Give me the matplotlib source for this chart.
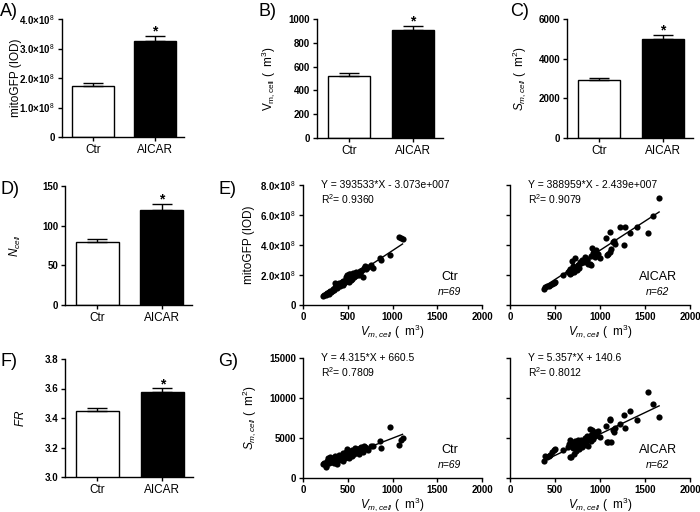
import numpy as np
import matplotlib.pyplot as plt

plt.rcParams.update({
    'font.family': 'Liberation Sans',
    'mathtext.fontset': 'custom',
    'mathtext.rm': 'Liberation Sans',
    'mathtext.it': 'Liberation Sans:italic',
    'mathtext.bf': 'Liberation Sans:bold',
    'axes.linewidth': 1.0,
})

# ------------------------------------------------------------
# DATA
# ------------------------------------------------------------
groups = ['Ctr', 'AICAR']

gfp_mean = [1.74e8, 3.27e8]
gfp_err = [0.10e8, 0.15e8]
vm_mean = [521, 907]
vm_err = [25, 34]
sm_mean = [2910, 4990]
sm_err = [115, 220]
ncell_mean = [79.6, 119.4]
ncell_err = [3.8, 8.4]
fr_mean = [3.449, 3.578]
fr_err = [0.019, 0.023]

# per-cell values, Ctr (n=69)
ctr_vm = [225, 240, 255, 262, 270, 280, 290, 295, 305, 312,
          320, 330, 338, 345, 352, 360, 368, 375, 382, 390,
          398, 405, 412, 420, 428, 436, 444, 452, 460, 468,
          475, 482, 488, 494, 500, 506, 512, 518, 524, 530,
          536, 542, 550, 556, 562, 570, 578, 586, 595, 604,
          612, 622, 632, 642, 652, 662, 673, 680, 692, 705,
          730, 759, 785, 860, 872, 972, 1068, 1095, 1112]
ctr_gfp = [0.58, 0.65, 0.72, 0.68, 0.78, 0.82, 0.76, 0.88, 0.92, 0.84,
           0.95, 1.00, 1.08, 1.02, 1.18, 1.45, 1.28, 1.15, 1.38, 1.25,
           1.32, 1.50, 1.30, 1.44, 1.38, 1.55, 1.36, 1.58, 1.46, 1.52,
           1.76, 1.86, 1.62, 2.00, 1.95, 1.70, 2.08, 1.56, 1.82, 2.04,
           1.66, 1.90, 1.76, 2.00, 2.14, 1.86, 2.06, 1.96, 2.20, 2.02,
           2.12, 1.98, 2.26, 2.08, 2.30, 2.36, 1.84, 2.50, 2.58, 2.42,
           2.55, 2.64, 2.47, 3.13, 3.00, 3.36, 4.53, 4.47, 4.40]
ctr_sm = [1750, 1900, 1500, 1330, 2100, 2450, 1850, 2300, 2600, 2050,
          2400, 2250, 2500, 1900, 2150, 2700, 2000, 1750, 2350, 2550,
          2250, 2900, 2450, 2600, 2800, 2350, 2150, 3100, 2700, 2500,
          3300, 2900, 2600, 3600, 3050, 2750, 3400, 2450, 3150, 2900,
          3250, 3500, 2800, 3100, 3300, 3000, 3800, 3450, 3200, 3600,
          3350, 3050, 3700, 3500, 3900, 3600, 3250, 4050, 3850, 3700,
          3500, 3950, 4000, 4600, 3800, 6350, 4150, 4700, 5000]

# per-cell values, AICAR (n=62)
aic_vm = [376, 392, 412, 430, 449, 467, 485, 504, 584, 640,
          650, 662, 668, 679, 686, 695, 704, 712, 723, 730,
          741, 750, 759, 768, 775, 788, 800, 814, 824, 832,
          842, 850, 860, 872, 887, 898, 905, 912, 920, 934,
          942, 949, 960, 978, 996, 1069, 1080, 1088, 1106, 1109,
          1117, 1142, 1161, 1168, 1226, 1263, 1277, 1336, 1416, 1533,
          1588, 1657]
aic_gfp = [1.07, 1.18, 1.24, 1.30, 1.36, 1.40, 1.44, 1.51, 2.02, 2.20,
           2.29, 2.05, 2.42, 2.13, 2.96, 2.30, 2.58, 2.20, 3.13, 2.45,
           2.36, 2.70, 2.64, 2.50, 2.88, 2.80, 3.00, 2.96, 2.85, 3.18,
           2.95, 3.02, 3.10, 2.75, 2.73, 3.25, 2.64, 3.78, 3.45, 3.58,
           3.20, 3.31, 3.69, 3.40, 3.13, 4.47, 3.35, 3.40, 3.53, 4.87,
           3.76, 4.20, 4.29, 4.07, 5.20, 3.98, 5.18, 4.80, 5.20, 4.80,
           5.96, 7.11]
aic_sm = [2150, 2750, 2600, 2700, 2900, 3300, 3500, 3600, 3450, 3900,
          4200, 2600, 4750, 2650, 4100, 3700, 4400, 3000, 4600, 3400,
          4000, 4300, 4700, 3600, 4200, 4800, 3900, 4450, 4100, 5000,
          4300, 4700, 5200, 4000, 6100, 5400, 4600, 6000, 4900, 5600,
          5200, 5800, 5400, 5900, 5100, 6500, 4550, 4500, 7200, 7350,
          4550, 6000, 5700, 6300, 6750, 7900, 6200, 8400, 7200, 10800,
          9300, 7600]

# regression (slope, intercept, R2) as printed on the panels
fit_e_ctr = (393533, -3.073e7, 0.9360)
fit_e_aic = (388959, -2.439e7, 0.9079)
fit_g_ctr = (4.315, 660.5, 0.7809)
fit_g_aic = (5.357, 140.6, 0.8012)

# ------------------------------------------------------------
# LAYOUT helpers (pixel boxes on a 700x512 canvas)
# ------------------------------------------------------------
W, H = 700, 512
fig = plt.figure(figsize=(7, 5.12), dpi=100)


def box(l, r, t, b):
    return [l / W, 1 - b / H, (r - l) / W, (b - t) / H]


def style(ax):
    for s in ['top', 'right']:
        ax.spines[s].set_visible(False)
    ax.tick_params(direction='out', length=3, width=1, pad=2, labelsize=7)
    for t in ax.get_yticklabels() + ax.get_xticklabels():
        t.set_fontweight('bold')


def panel_letter(x, y, s):
    fig.text(x / W, 1 - y / H, s, fontsize=13, va='center', ha='left')


def bar_panel(pos, mean, err, ylim, yticks, yticklabels, ylabel, lab_x):
    ax = fig.add_axes(box(*pos))
    xs = np.arange(len(groups))
    ax.bar(xs, mean, width=0.67, color=['white', 'black'],
           edgecolor='black', linewidth=1, zorder=2)
    ax.errorbar(xs, mean, yerr=[np.zeros(len(err)), err], fmt='none',
                ecolor='black', elinewidth=1, capsize=7.5, capthick=1, zorder=3)
    ax.annotate('*', (1, mean[1] + err[1]), xytext=(0, -2),
                textcoords='offset points', ha='center', va='bottom',
                fontsize=10, fontweight='bold')
    ax.set_xlim(-0.5, 1.47)
    ax.set_ylim(*ylim)
    ax.set_xticks(xs)
    ax.set_xticklabels(groups)
    ax.set_yticks(yticks)
    ax.set_yticklabels(yticklabels)
    style(ax)
    for t in ax.get_xticklabels():
        t.set_fontweight('normal')
        t.set_fontsize(8.5)
    ax.set_ylabel(ylabel, fontsize=8.5)
    ax.yaxis.set_label_coords(lab_x, 0.5)
    return ax


def scatter_panel(pos, x, y, fit, eq, name, n, ylim, yticks, yticklabels,
                  ylabel=None, lab_x=None):
    ax = fig.add_axes(box(*pos))
    ax.scatter(x, y, s=20, c='black', linewidths=0, zorder=3, clip_on=False)
    xl = np.array([min(x), max(x)])
    ax.plot(xl, fit[0] * xl + fit[1], color='black', lw=1, zorder=2)
    ax.set_xlim(0, 2000)
    ax.set_xticks([0, 500, 1000, 1500, 2000])
    ax.set_ylim(*ylim)
    ax.set_yticks(yticks)
    ax.set_yticklabels(yticklabels)
    style(ax)
    ax.text(0.1, 1.0, eq, transform=ax.transAxes, fontsize=7.5,
            ha='left', va='center')
    ax.text(0.1, 0.88, 'R$^2$= %.4f' % fit[2], transform=ax.transAxes,
            fontsize=7.5, ha='left', va='center')
    ax.text(0.82, 0.23, name, transform=ax.transAxes, fontsize=9,
            ha='center', va='center')
    ax.text(0.82, 0.11, 'n=%d' % n, transform=ax.transAxes, fontsize=7.5,
            style='italic', ha='center', va='center')
    ax.set_xlabel(r'$V_{m,cell}$ (  m$^3$)', fontsize=8.5)
    ax.xaxis.set_label_coords(0.5, -0.145)
    if ylabel is not None:
        ax.set_ylabel(ylabel, fontsize=8.5)
        ax.yaxis.set_label_coords(lab_x, 0.5)
    return ax


# ------------------------------------------------------------
# BAR PANELS
# ------------------------------------------------------------
bar_panel((62, 184, 19, 137), gfp_mean, gfp_err, (0, 4e8),
          [0, 1e8, 2e8, 3e8, 4e8],
          ['0', '1.0×10$^8$', '2.0×10$^8$', '3.0×10$^8$', '4.0×10$^8$'],
          'mitoGFP (IOD)', -0.33)
bar_panel((317, 443, 19, 138), vm_mean, vm_err, (0, 1000),
          [0, 200, 400, 600, 800, 1000],
          ['0', '200', '400', '600', '800', '1000'],
          r'V$_{\mathrm{m,cell}}$ (  m$^3$)', -0.32)
bar_panel((567, 693, 19, 138), sm_mean, sm_err, (0, 6000),
          [0, 2000, 4000, 6000], ['0', '2000', '4000', '6000'],
          r'$S_{m,cell}$ (  m$^2$)', -0.31)
bar_panel((65, 192, 186, 305), ncell_mean, ncell_err, (0, 150),
          [0, 50, 100, 150], ['0', '50', '100', '150'],
          r'$N_{cell}$', -0.33)
bar_panel((65, 193, 359, 477), fr_mean, fr_err, (3.0, 3.8),
          [3.0, 3.2, 3.4, 3.6, 3.8], ['3.0', '3.2', '3.4', '3.6', '3.8'],
          r'$FR$', -0.30)

# ------------------------------------------------------------
# SCATTER PANELS
# ------------------------------------------------------------
gfp_ticks = [0, 2e8, 4e8, 6e8, 8e8]
gfp_labels = ['0', '2.0×10$^8$', '4.0×10$^8$', '6.0×10$^8$', '8.0×10$^8$']

scatter_panel((303, 482, 185, 305), ctr_vm, np.array(ctr_gfp) * 1e8,
              fit_e_ctr, 'Y = 393533*X - 3.073e+007', 'Ctr', 69,
              (0, 8e8), gfp_ticks, gfp_labels, 'mitoGFP (IOD)', -0.27)
scatter_panel((510, 690, 185, 305), aic_vm, np.array(aic_gfp) * 1e8,
              fit_e_aic, 'Y = 388959*X - 2.439e+007', 'AICAR', 62,
              (0, 8e8), gfp_ticks, [''] * 5)

s_ticks = [0, 5000, 10000, 15000]
scatter_panel((303, 482, 358, 478), ctr_vm, ctr_sm,
              fit_g_ctr, 'Y = 4.315*X + 660.5', 'Ctr', 69,
              (0, 15000), s_ticks, ['0', '5000', '10000', '15000'],
              r'$S_{m,cell}$ (  m$^2$)', -0.25)
scatter_panel((510, 690, 358, 478), aic_vm, aic_sm,
              fit_g_aic, 'Y = 5.357*X + 140.6', 'AICAR', 62,
              (0, 15000), s_ticks, [''] * 4)

# panel letters
panel_letter(0, 11, 'A)')
panel_letter(259, 11, 'B)')
panel_letter(510, 11, 'C)')
panel_letter(0, 189, 'D)')
panel_letter(218, 189, 'E)')
panel_letter(0, 361, 'F)')
panel_letter(218, 361, 'G)')

fig.savefig('out.png', dpi=100)
